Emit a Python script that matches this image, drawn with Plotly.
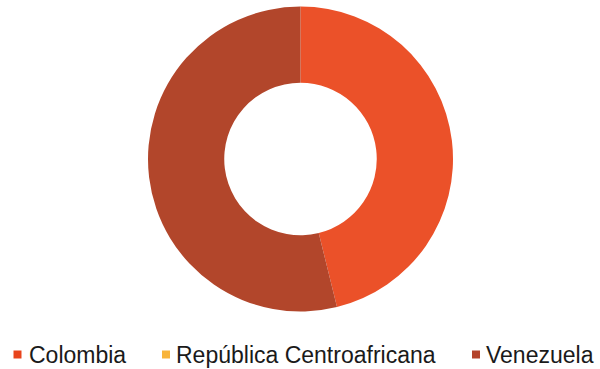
import plotly.graph_objects as go

labels = ["Colombia", "República Centroafricana", "Venezuela"]
values = [6, 0, 7]
slice_colors = ["#EB5129", "#F7B53C", "#B2462B"]
legend_colors = ["#E8441C", "#F8B43A", "#B4432A"]

W, H = 600, 369

fig = go.Figure()
fig.add_trace(go.Pie(
    labels=labels, values=values, hole=0.5, sort=False, direction="clockwise",
    rotation=0, marker=dict(colors=slice_colors, line=dict(width=0)),
    textinfo="none", hoverinfo="label+value+percent", showlegend=False,
    domain=dict(x=[148 / W, 453 / W], y=[1 - 311.5 / H, 1 - 6.5 / H]),
))

# legend built as text + small squares (matches the reference's legend layout)
marker_x = [17.5, 166, 476]
text_x = [27, 174, 484]
legend_y = 354.5
shapes, annotations = [], []
for lab, col, mx, tx in zip(labels, legend_colors, marker_x, text_x):
    shapes.append(dict(type="rect", xref="paper", yref="paper",
                       x0=(mx - 4) / W, x1=(mx + 4) / W,
                       y0=1 - (legend_y + 4) / H, y1=1 - (legend_y - 4) / H,
                       fillcolor=col, line=dict(width=0)))
    annotations.append(dict(text=lab, xref="paper", yref="paper", x=tx / W,
                            y=1 - legend_y / H, xanchor="left", yanchor="middle",
                            showarrow=False,
                            font=dict(family="Liberation Sans, Arial", size=23, color="#1a1a1a")))

fig.update_layout(
    width=W, height=H, margin=dict(l=0, r=0, t=0, b=0),
    paper_bgcolor="white", plot_bgcolor="white",
    shapes=shapes, annotations=annotations,
)
fig.write_html("out.html", config={"displayModeBar": False},
               post_script="document.body.style.margin='0';document.body.style.overflow='hidden';")
